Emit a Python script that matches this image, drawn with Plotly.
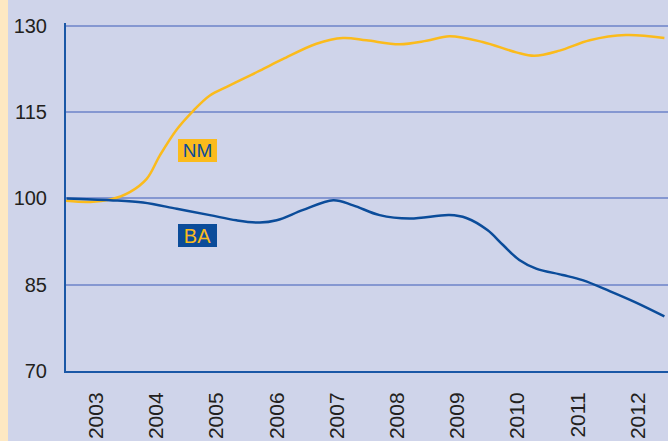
import plotly.graph_objects as go

# ---- data (decimal years, index values) ----
nm_x = [2003.00, 2003.40, 2003.73, 2004.06, 2004.34, 2004.56, 2004.84, 2005.11,
        2005.39, 2005.67, 2005.94, 2006.22, 2006.60, 2007.16, 2007.60, 2007.99,
        2008.54, 2008.99, 2009.37, 2009.92, 2010.48, 2010.78, 2011.20, 2011.70,
        2012.30, 2012.94]
nm_y = [99.6, 99.4, 99.8, 101.1, 103.4, 107.5, 112.0, 115.2,
        117.9, 119.4, 120.8, 122.2, 124.2, 126.9, 127.9, 127.5,
        126.8, 127.4, 128.2, 127.2, 125.4, 124.8, 125.7, 127.5,
        128.4, 127.9]

ba_x = [2003.01, 2003.73, 2004.28, 2004.84, 2005.39, 2005.83, 2006.22, 2006.50,
        2006.94, 2007.44, 2007.77, 2008.21, 2008.71, 2009.37, 2009.65, 2010.00,
        2010.26, 2010.53, 2010.81, 2011.25, 2011.58, 2012.03, 2012.47, 2012.94]
ba_y = [100.0, 99.7, 99.3, 98.2, 97.1, 96.2, 95.8, 96.2,
        98.0, 99.7, 98.8, 97.1, 96.5, 97.1, 96.6, 94.5,
        91.9, 89.3, 87.8, 86.7, 85.8, 83.9, 81.9, 79.5]

years = ["2003", "2004", "2005", "2006", "2007", "2008", "2009", "2010", "2011", "2012"]
year_pos = [2003.5 + i for i in range(len(years))]
y_ticks = [70, 85, 100, 115, 130]

YELLOW = "#fbbb1c"
BLUE = "#0b4c9a"
AXIS = "#1a57a6"
GRID = "#8597d1"
BG = "#cfd4ea"
FONT = "Liberation Sans, Arial, sans-serif"

fig = go.Figure()
fig.add_trace(go.Scatter(x=nm_x, y=nm_y, mode="lines", name="NM",
                         line=dict(color=YELLOW, width=2.5, shape="spline", smoothing=1.0),
                         hoverinfo="skip"))
fig.add_trace(go.Scatter(x=ba_x, y=ba_y, mode="lines", name="BA",
                         line=dict(color=BLUE, width=2.5, shape="spline", smoothing=1.0),
                         hoverinfo="skip"))

fig.update_layout(
    width=668, height=441,
    margin=dict(l=66, r=0, t=23, b=70),
    paper_bgcolor=BG, plot_bgcolor=BG,
    showlegend=False,
    font=dict(family=FONT, color="#231f20"),
    xaxis=dict(range=[2003, 2013], tickvals=year_pos, ticktext=years,
               tickangle=-90, tickfont=dict(size=21, family=FONT, color="#231f20"),
               showgrid=False, zeroline=False, showline=True, automargin=False,
               linecolor=AXIS, linewidth=2, ticks="", ticklabelstandoff=11),
    yaxis=dict(range=[70, 130.5], tickvals=y_ticks,
               tickfont=dict(size=20, family=FONT, color="#231f20"),
               showgrid=True, gridcolor=GRID, gridwidth=1.5, automargin=False,
               zeroline=False, showline=True, linecolor=AXIS, linewidth=2,
               ticks="", ticklabelstandoff=13),
    shapes=[dict(type="rect", xref="paper", yref="paper",
                 x0=-66/602, x1=-58/602, y0=-1, y1=2,
                 fillcolor="#fde8c2", line=dict(width=0), layer="below")],
    annotations=[
        dict(x=2005.18, y=108.35, xref="x", yref="y", text="NM", showarrow=False,
             font=dict(size=19, color=BLUE, family=FONT), bgcolor=YELLOW,
             width=35, height=19, borderpad=2, borderwidth=0),
        dict(x=2005.18, y=93.6, xref="x", yref="y", text="BA", showarrow=False,
             font=dict(size=20, color=YELLOW, family=FONT), bgcolor=BLUE,
             width=35, height=19, borderpad=2, borderwidth=0),
    ],
)

fig.write_html("out.html", config={"displayModeBar": False},
               post_script="document.body.style.margin='0';document.body.style.overflow='hidden';")
